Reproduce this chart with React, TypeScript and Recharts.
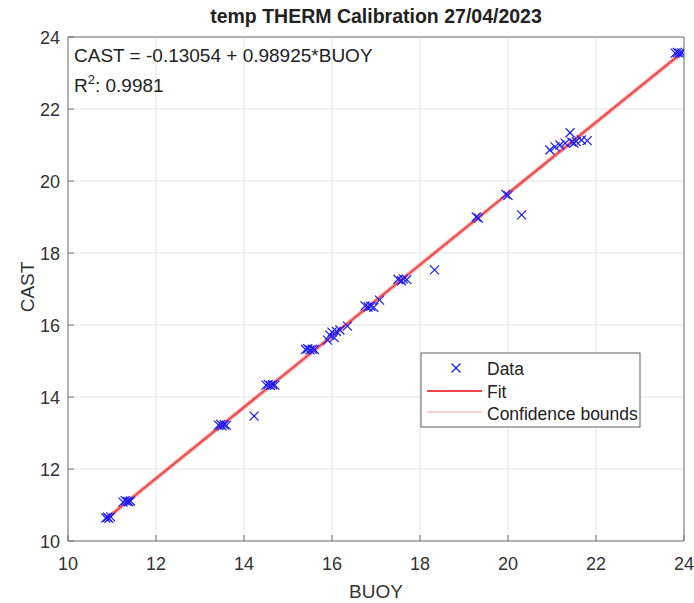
import React from 'react';
import { CartesianGrid, ReferenceArea, Scatter, ScatterChart, XAxis, YAxis } from 'recharts';

// BUOY / CAST pairs
const buoy = [
  10.86, 10.9, 10.93, 10.97,
  11.25, 11.3, 11.34, 11.38, 11.42,
  13.42, 13.47, 13.5, 13.55, 13.6,
  14.23,
  14.5, 14.55, 14.6, 14.65, 14.7,
  15.4, 15.45, 15.5, 15.55, 15.6,
  15.9, 15.95, 16.0, 16.05, 16.1, 16.18, 16.35,
  16.75, 16.82, 16.88, 16.95, 17.08,
  17.5, 17.58, 17.62, 17.7,
  18.33,
  19.28, 19.33,
  19.95, 20.0,
  20.31,
  20.95, 21.07, 21.18, 21.3, 21.41, 21.45, 21.5, 21.55, 21.67, 21.8,
  23.8, 23.85, 23.9, 23.95,
];
const cast = [
  10.64, 10.66, 10.63, 10.67,
  11.08, 11.12, 11.1, 11.09, 11.11,
  13.22, 13.24, 13.2, 13.23, 13.21,
  13.47,
  14.33, 14.35, 14.32, 14.34, 14.33,
  15.32, 15.34, 15.31, 15.33, 15.32,
  15.58, 15.72, 15.8, 15.65, 15.82, 15.86, 15.97,
  16.53, 16.5, 16.52, 16.49, 16.69,
  17.27, 17.23, 17.28, 17.26,
  17.53,
  19.0, 18.97,
  19.63, 19.6,
  19.06,
  20.86, 20.95, 21.0, 21.05, 21.34, 21.08, 21.05, 21.1, 21.14, 21.12,
  23.55, 23.57, 23.55, 23.56,
];

// fit line and confidence bounds (end points)
const fitX = [10.88, 23.95];
const fitY = [10.63, 23.56];
const lowerY = [10.57, 23.5];
const upperY = [10.69, 23.62];

const TICKS = [10, 12, 14, 16, 18, 20, 22, 24];

const data = buoy.map((x, i) => ({ x, y: cast[i] }));
const fit = fitX.map((x, i) => ({ x, y: fitY[i] }));
const lower = fitX.map((x, i) => ({ x, y: lowerY[i] }));
const upper = fitX.map((x, i) => ({ x, y: upperY[i] }));

const AX = '#737373';
const TXT = '#333333';
const FONT = '"Liberation Sans", Arial, Helvetica, sans-serif';
const BLUE = '#1a1aff';
const RED = '#f04848';
const PINK = '#f6a8a8';

function XMark({ cx, cy }: any) {
  const s = 4.5;
  return (
    <g stroke={BLUE} strokeWidth={1.2}>
      <line x1={cx - s} y1={cy - s} x2={cx + s} y2={cy + s} />
      <line x1={cx - s} y1={cy + s} x2={cx + s} y2={cy - s} />
    </g>
  );
}

const BottomTick = ({ x, y, payload }: any) => (
  <g>
    <line x1={x} x2={x} y1={y} y2={y - 6} stroke={AX} />
    <text x={x} y={y + 29} textAnchor="middle" fontSize={18} fill={TXT} fontFamily={FONT}>
      {payload.value}
    </text>
  </g>
);
const LeftTick = ({ x, y, payload }: any) => (
  <g>
    <line x1={x} x2={x + 6} y1={y} y2={y} stroke={AX} />
    <text x={x - 8} y={y + 6.5} textAnchor="end" fontSize={18} fill={TXT} fontFamily={FONT}>
      {payload.value}
    </text>
  </g>
);
const TopTick = ({ x, y }: any) => <line x1={x} x2={x} y1={y} y2={y + 6} stroke={AX} />;
const RightTick = ({ x, y }: any) => <line x1={x} x2={x - 6} y1={y} y2={y} stroke={AX} />;

export default function App() {
  return (
    <div style={{ position: 'relative', width: 694, height: 603, background: '#fff', fontFamily: FONT }}>
      <style>{'body{margin:0}'}</style>
      <ScatterChart width={694} height={603} margin={{ top: 37, right: 10, bottom: 0, left: 0 }}>
        <CartesianGrid stroke="#e4e4e4" />
        <XAxis
          type="number"
          dataKey="x"
          domain={[10, 24]}
          ticks={TICKS}
          allowDataOverflow
          height={62}
          axisLine={false}
          tickLine={false}
          tickSize={0}
          tickMargin={0}
          tick={<BottomTick />}
        />
        <XAxis
          xAxisId="top"
          orientation="top"
          type="number"
          dataKey="x"
          domain={[10, 24]}
          ticks={TICKS}
          allowDataOverflow
          height={0}
          axisLine={false}
          tickLine={false}
          tickSize={0}
          tickMargin={0}
          tick={<TopTick />}
        />
        <YAxis
          type="number"
          dataKey="y"
          domain={[10, 24]}
          ticks={TICKS}
          allowDataOverflow
          width={68}
          axisLine={false}
          tickLine={false}
          tickSize={0}
          tickMargin={0}
          tick={<LeftTick />}
        />
        <YAxis
          yAxisId="right"
          orientation="right"
          type="number"
          dataKey="y"
          domain={[10, 24]}
          ticks={TICKS}
          allowDataOverflow
          width={0}
          axisLine={false}
          tickLine={false}
          tickSize={0}
          tickMargin={0}
          tick={<RightTick />}
        />
        <ReferenceArea x1={10} x2={24} y1={10} y2={24} fill="none" stroke={AX} strokeWidth={1} />
        <Scatter data={lower} line={{ stroke: PINK, strokeWidth: 1 }} shape={() => <g />} isAnimationActive={false} />
        <Scatter data={upper} line={{ stroke: PINK, strokeWidth: 1 }} shape={() => <g />} isAnimationActive={false} />
        <Scatter data={fit} line={{ stroke: RED, strokeWidth: 2.2 }} shape={() => <g />} isAnimationActive={false} />
        <Scatter data={data} shape={(p: any) => <XMark {...p} />} isAnimationActive={false} />
      </ScatterChart>

      <svg
        width={694}
        height={603}
        style={{ position: 'absolute', left: 0, top: 0, pointerEvents: 'none' }}
        fontFamily={FONT}
      >
        <text x={376} y={23} textAnchor="middle" fontSize={19.5} fontWeight="bold" fill="#222">
          temp THERM Calibration 27/04/2023
        </text>
        <text x={74} y={62} fontSize={19} fill="#222">
          CAST = -0.13054 + 0.98925*BUOY
        </text>
        <text x={74} y={92} fontSize={19} fill="#222">
          R<tspan dy={-8} fontSize={13}>2</tspan>
          <tspan dy={8}>: 0.9981</tspan>
        </text>
        <text x={376} y={598} textAnchor="middle" fontSize={19} fill={TXT}>
          BUOY
        </text>
        <text transform="translate(34,287) rotate(-90)" textAnchor="middle" fontSize={19} fill={TXT}>
          CAST
        </text>

        <rect x={421} y={353} width={219} height={74} fill="#fff" stroke="#5f5f5f" />
        <XMark cx={456} cy={368} />
        <text x={487} y={375} fontSize={17.5} fill="#222">Data</text>
        <line x1={427} x2={482} y1={391} y2={391} stroke={RED} strokeWidth={2} />
        <text x={487} y={398} fontSize={17.5} fill="#222">Fit</text>
        <line x1={427} x2={482} y1={412} y2={412} stroke={PINK} strokeWidth={1} />
        <text x={487} y={420} fontSize={17.5} fill="#222">Confidence bounds</text>
      </svg>
    </div>
  );
}
